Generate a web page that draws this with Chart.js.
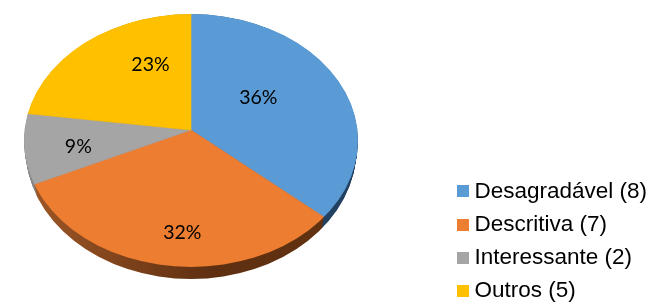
<!DOCTYPE html>
<html>
<head>
<meta charset="utf-8">
<style>
html, body { margin: 0; padding: 0; background: #fff; }
canvas { display: block; }
</style>
<script src="https://cdn.jsdelivr.net/npm/chart.js@4/dist/chart.umd.min.js"></script>
</head>
<body>
<canvas id="ChartPie" width="663" height="307"></canvas>
<script>
const categories = ["Desagradável", "Descritiva", "Interessante", "Outros"];
const counts = [8, 7, 2, 5];
const percentLabels = ["36%", "32%", "9%", "23%"];
const colors = ["#5b9bd5", "#ed7d31", "#a5a5a5", "#ffc000"];

// apex of the tilted pie, its outline (the apex is not in the middle of it) and how the slices spread
const pieX = 191, pieY = 130, depth = 12;
const rimX = 167, rimY = 126.5, rimCentreY = 140.5;
const spreadX = 172, spreadTop = 120, spreadBottom = 130, overshoot = 1.25;
// Excel had the labels moved by hand, so nudge them from the default spot
const labelShift = [[-39, 1], [8, 8], [3, 3], [36, -4]];

function sideFill(ctx, arc, i) {
    let r = arc.outerRadius;
    let g = ctx.createLinearGradient(arc.x - r, 0, arc.x + r, 0);
    if (i == 0) {
        g.addColorStop(0, "#224060");
        g.addColorStop(1, "#224060");
    } else if (i == 1) {
        g.addColorStop(0, "#b0632c");
        g.addColorStop(0.25, "#8c4b20");
        g.addColorStop(0.55, "#5e2f11");
        g.addColorStop(1, "#643410");
    } else if (i == 2) {
        g.addColorStop(0, "#8a8a8a");
        g.addColorStop(1, "#6a6a6a");
    } else {
        g.addColorStop(0, "#997300");
        g.addColorStop(1, "#997300");
    }
    return g;
}

function paintHalf(chart, arcs, top, shift, side) {
    let ctx = chart.ctx;
    let r = arcs[0].outerRadius;
    ctx.save();
    ctx.beginPath();
    // the side tapers away towards the widest part of the pie
    ctx.ellipse(pieX, rimCentreY + shift * 2 / 3, rimX - shift / 8, rimY + shift / 3, 0, 0, Math.PI * 2);
    ctx.clip();
    ctx.beginPath();
    if (top) {
        ctx.rect(0, 0, chart.width, pieY + shift);
    } else {
        ctx.rect(0, pieY + shift, chart.width, chart.height);
    }
    ctx.clip();
    ctx.translate(pieX, pieY + shift);
    ctx.scale(spreadX * overshoot / r, (top ? spreadTop : spreadBottom) * overshoot / r);
    ctx.translate(-arcs[0].x, -arcs[0].y);
    arcs.forEach((arc, i) => {
        let saved = arc.options;
        if (side) {
            let fill = sideFill(ctx, arc, i);
            let o = Object.create(saved);
            o.backgroundColor = fill;
            o.borderColor = fill;
            arc.options = o;
        }
        arc.draw(ctx);
        arc.options = saved;
    });
    ctx.restore();
}

const tiltPlugin = {
    id: 'tilt',
    beforeDatasetDraw(chart, args) {
        let arcs = args.meta.data;
        for (let d = depth; d > 0; d--) {
            paintHalf(chart, arcs, true, d, true);
            paintHalf(chart, arcs, false, d, true);
        }
        paintHalf(chart, arcs, true, 0, false);
        paintHalf(chart, arcs, false, 0, false);
        return false;
    },
    afterDatasetsDraw(chart) {
        let ctx = chart.ctx;
        let arcs = chart.getDatasetMeta(0).data;
        ctx.save();
        ctx.font = "19.5px Lato";
        ctx.fillStyle = "#000";
        ctx.textAlign = "center";
        ctx.textBaseline = "middle";
        arcs.forEach((arc, i) => {
            let mid = (arc.startAngle + arc.endAngle) / 2;
            let dx = Math.cos(mid) * 0.7, dy = Math.sin(mid) * 0.7;
            let x = pieX + dx * rimX + labelShift[i][0];
            let y = pieY + dy * (dy < 0 ? 116 : 137) + labelShift[i][1];
            ctx.fillText(percentLabels[i], x, y);
        });
        ctx.restore();
    }
};

function legendSwatch(color) {
    let c = document.createElement("canvas");
    c.width = 12;
    c.height = 12;
    let g = c.getContext("2d");
    g.fillStyle = color;
    g.fillRect(0, 0, 12, 12);
    return c;
}

new Chart(document.getElementById('ChartPie').getContext("2d"), {
    type: 'pie',
    data: {
        labels: categories.map((c, i) => c + " (" + counts[i] + ")"),
        datasets: [{
            data: counts,
            backgroundColor: colors,
            borderColor: colors,
            borderWidth: 0.5
        }]
    },
    plugins: [tiltPlugin],
    options: {
        responsive: false,
        animation: false,
        devicePixelRatio: 1,
        layout: { padding: { top: 0, right: 6, bottom: -6, left: 0 } },
        plugins: {
            tooltip: { enabled: false },
            legend: {
                position: 'right',
                align: 'end',
                labels: {
                    color: "#000",
                    font: { family: "'Liberation Sans'", size: 22.5, lineHeight: 1 },
                    padding: 10.7,
                    boxHeight: 12,
                    usePointStyle: true,
                    pointStyleWidth: 1,
                    generateLabels(chart) {
                        let items = Chart.overrides.pie.plugins.legend.labels.generateLabels(chart);
                        items.forEach((item, i) => {
                            item.pointStyle = legendSwatch(colors[i]);
                        });
                        return items;
                    }
                }
            }
        }
    }
});
</script>
</body>
</html>
